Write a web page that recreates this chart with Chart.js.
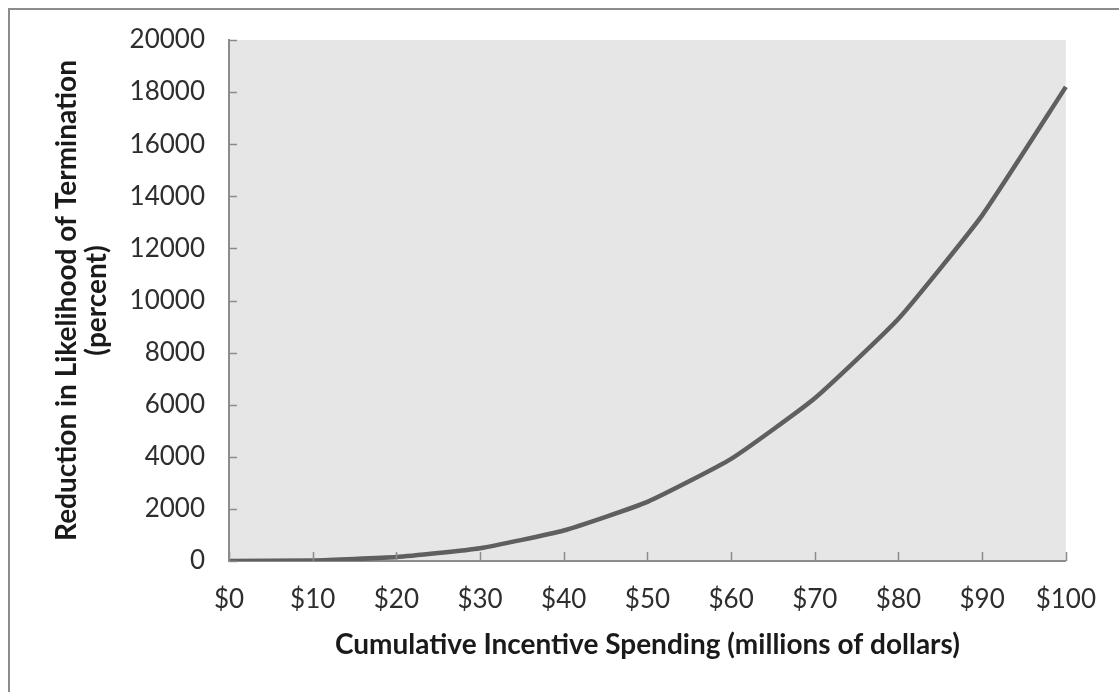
<!DOCTYPE html>
<html>
<head>
<meta charset="utf-8">
<script src="https://cdn.jsdelivr.net/npm/chart.js@4.4.1/dist/chart.umd.min.js"></script>
<style>
  html, body { margin: 0; padding: 0; background: #fff; overflow: hidden; }
  #wrap { position: relative; width: 1119px; height: 692px; }
  #frame {
    position: absolute; left: 8px; top: 8px; right: -10px; bottom: -10px;
    border-top: 2px solid #8c8c8c; border-left: 2px solid #8c8c8c;
    pointer-events: none;
  }
</style>
</head>
<body>
<div id="wrap">
  <canvas id="spendChart"></canvas>
  <div id="frame"></div>
</div>
<script>
const spendLabels = ["$0", "$10", "$20", "$30", "$40", "$50", "$60", "$70", "$80", "$90", "$100"];
const reductionValues = [0, 20, 150, 490, 1170, 2270, 3920, 6250, 9300, 13270, 18200];
const yTitleLines = ["Reduction in Likelihood of Termination", "(percent)"];
const xTitle = "Cumulative Incentive Spending (millions of dollars)";

const AXIS_GREY = "#8c8c8c";

// grey plot area + inward tick marks like the original
const plotDecor = {
  id: "plotDecor",
  beforeDraw(chart) {
    const { ctx, chartArea: a } = chart;
    ctx.save();
    ctx.fillStyle = "#e6e6e6";
    ctx.fillRect(a.left, a.top, a.right - a.left, a.bottom - a.top);
    ctx.restore();
  },
  afterDraw(chart) {
    const { ctx, chartArea: a, scales } = chart;
    ctx.save();
    ctx.strokeStyle = AXIS_GREY;
    ctx.lineWidth = 1.5;
    ctx.beginPath();
    scales.x.ticks.forEach((t, i) => {
      const px = Math.round(scales.x.getPixelForTick(i)) + 0.5;
      ctx.moveTo(px, a.bottom);
      ctx.lineTo(px, a.bottom - 9);
    });
    scales.y.ticks.forEach((t) => {
      const py = Math.round(scales.y.getPixelForValue(t.value)) + 0.5;
      ctx.moveTo(a.left, py);
      ctx.lineTo(a.left + 8, py);
    });
    ctx.stroke();
    ctx.restore();
  },
};

const ctx = document.getElementById("spendChart").getContext("2d");

new Chart(ctx, {
  type: "line",
  data: {
    labels: spendLabels,
    datasets: [
      {
        data: reductionValues,
        borderColor: "#5f5f5f",
        borderWidth: 4.5,
        pointRadius: 0,
        tension: 0.15,
        fill: false,
      },
    ],
  },
  options: {
    responsive: true,
    maintainAspectRatio: false,
    animation: false,
    layout: { padding: { top: 40, right: 49, left: 0, bottom: 0 } },
    plugins: {
      legend: { display: false },
      tooltip: { enabled: false },
    },
    scales: {
      x: {
        offset: false,
        afterFit(scale) {
          scale.height = 131;
        },
        grid: { display: false, drawTicks: false },
        border: { display: true, color: AXIS_GREY, width: 2 },
        ticks: {
          color: "#2e2e2e",
          padding: 23,
          maxRotation: 0,
          autoSkip: false,
          font: { family: "Lato", size: 26 },
        },
        title: {
          display: true,
          text: xTitle,
          color: "#1a1a1a",
          padding: { top: 0, bottom: 30 },
          font: { family: "Lato", size: 28, weight: "bold" },
        },
      },
      y: {
        min: 0,
        max: 20000,
        afterFit(scale) {
          scale.width = 229;
        },
        grid: { display: false, drawTicks: false },
        border: { display: true, color: AXIS_GREY, width: 2 },
        ticks: {
          stepSize: 2000,
          color: "#2e2e2e",
          padding: 24,
          font: { family: "Lato", size: 26 },
          callback: function (value) {
            return String(value); // no thousands separator
          },
        },
        title: {
          display: true,
          text: yTitleLines,
          color: "#1a1a1a",
          padding: { top: 52, bottom: 0 },
          font: { family: "Lato", size: 28, weight: "bold", lineHeight: 1.07 },
        },
      },
    },
  },
  plugins: [plotDecor],
});
</script>
</body>
</html>
